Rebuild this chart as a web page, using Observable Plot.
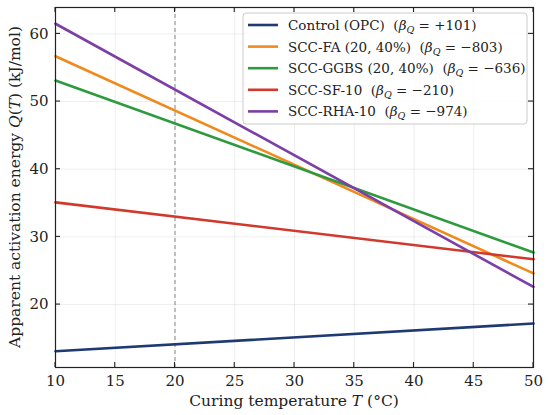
<!DOCTYPE html>
<html>
<head>
<meta charset="utf-8">
<script src="https://cdn.jsdelivr.net/npm/d3@7"></script>
<script src="https://cdn.jsdelivr.net/npm/@observablehq/plot@0.6"></script>
<style>
  html, body { margin: 0; padding: 0; background: white; }
  svg text { font-family: "DejaVu Serif", serif; }
</style>
</head>
<body>
<div id="chart"></div>
<script>
// ---- data ----
const seriesNames = ["Control (OPC)", "SCC-FA (20, 40%)", "SCC-GGBS (20, 40%)", "SCC-SF-10", "SCC-RHA-10"];
const betaLabels = ["+101", "\u2212803", "\u2212636", "\u2212210", "\u2212974"];
const temps = [10, 50];
const qAtStart = [13.1, 56.7, 53.1, 35.1, 61.5];
const qAtEnd = [17.2, 24.6, 27.7, 26.7, 22.6];
const colors = ["#1f3a73", "#ef8a1d", "#2e9a3e", "#d0392c", "#7b3fa6"];
const xTicks = [10, 15, 20, 25, 30, 35, 40, 45, 50];
const yTicks = [20, 30, 40, 50, 60];
const refTemp = [20];

const rows = [];
seriesNames.forEach((s, i) => {
  rows.push({series: s, T: temps[0], Q: qAtStart[i]});
  rows.push({series: s, T: temps[1], Q: qAtEnd[i]});
});

const W = 550, H = 415;
const mL = 55, mR = 17, mT = 7, mB = 48;
const TICK = 5;

const plot = Plot.plot({
  width: W, height: H,
  marginLeft: mL, marginRight: mR, marginTop: mT, marginBottom: mB,
  style: {fontFamily: "DejaVu Serif", fontSize: "15px", background: "white", color: "#222"},
  x: {domain: [10, 50]},
  y: {domain: [10.7, 63.9]},
  color: {domain: seriesNames, range: colors},
  marks: [
    Plot.gridX(xTicks, {stroke: "#000", strokeOpacity: 0.09, strokeWidth: 0.8}),
    Plot.gridY(yTicks, {stroke: "#000", strokeOpacity: 0.09, strokeWidth: 0.8}),
    Plot.ruleX(refTemp, {stroke: "#8a8a8a", strokeWidth: 1, strokeDasharray: "4,3"}),
    Plot.line(rows, {x: "T", y: "Q", z: "series", stroke: "series", strokeWidth: 2.6}),
    Plot.axisX(xTicks, {anchor: "bottom", tickSize: 0, tickPadding: 8, label: null, fontSize: 15}),
    Plot.axisY(yTicks, {anchor: "left", tickSize: 0, tickPadding: 7, label: null, fontSize: 15}),
    Plot.frame({stroke: "#222", strokeWidth: 1.2})
  ]
});

document.getElementById("chart").appendChild(plot);

const svg = d3.select(plot);
const sx = plot.scale("x"), sy = plot.scale("y");
const x0 = mL, x1 = W - mR, y0 = mT, y1 = H - mB;

// inward ticks on all four sides
const tg = svg.append("g").attr("stroke", "#222").attr("stroke-width", 1.1);
xTicks.forEach(v => {
  const px = sx.apply(v);
  tg.append("line").attr("x1", px).attr("x2", px).attr("y1", y1).attr("y2", y1 - TICK);
  tg.append("line").attr("x1", px).attr("x2", px).attr("y1", y0).attr("y2", y0 + TICK);
});
yTicks.forEach(v => {
  const py = sy.apply(v);
  tg.append("line").attr("x1", x0).attr("x2", x0 + TICK).attr("y1", py).attr("y2", py);
  tg.append("line").attr("x1", x1).attr("x2", x1 - TICK).attr("y1", py).attr("y2", py);
});

// axis labels
const xl = svg.append("text")
  .attr("x", mL + (W - mL - mR) / 2).attr("y", 406)
  .attr("text-anchor", "middle").attr("font-size", 15.5).attr("fill", "#222")
  .style("white-space", "pre");
xl.append("tspan").text("Curing temperature ");
xl.append("tspan").attr("font-style", "italic").text("T");
xl.append("tspan").text(" (\u00B0C)");

const yl = svg.append("text")
  .attr("transform", `translate(20,${mT + (H - mT - mB) / 2}) rotate(-90)`)
  .attr("text-anchor", "middle").attr("font-size", 15.5).attr("fill", "#222");
yl.append("tspan").text("Apparent activation energy ");
yl.append("tspan").attr("font-style", "italic").text("Q");
yl.append("tspan").text("(");
yl.append("tspan").attr("font-style", "italic").text("T");
yl.append("tspan").text(") (kJ/mol)");

// legend
const lg = svg.append("g").attr("text-anchor", "start");
lg.append("rect")
  .attr("x", 243).attr("y", 13).attr("width", 284).attr("height", 111)
  .attr("rx", 3).attr("fill", "white").attr("fill-opacity", 0.85)
  .attr("stroke", "#cccccc").attr("stroke-width", 1);
seriesNames.forEach((s, i) => {
  const yy = 25 + i * 21.6;
  lg.append("line").attr("x1", 248).attr("x2", 278).attr("y1", yy).attr("y2", yy)
    .attr("stroke", colors[i]).attr("stroke-width", 2.6);
  const t = lg.append("text").attr("x", 288).attr("y", yy + 5)
    .attr("text-anchor", "start")
    .attr("font-size", 13.5).attr("fill", "#222").style("white-space", "pre");
  t.append("tspan").text(s + "  (");
  t.append("tspan").attr("font-style", "italic").text("\u03B2");
  t.append("tspan").attr("font-style", "italic").attr("font-size", 9.5).attr("dy", 3).text("Q");
  t.append("tspan").attr("dy", -3).text(" = " + betaLabels[i] + ")");
});
</script>
</body>
</html>
